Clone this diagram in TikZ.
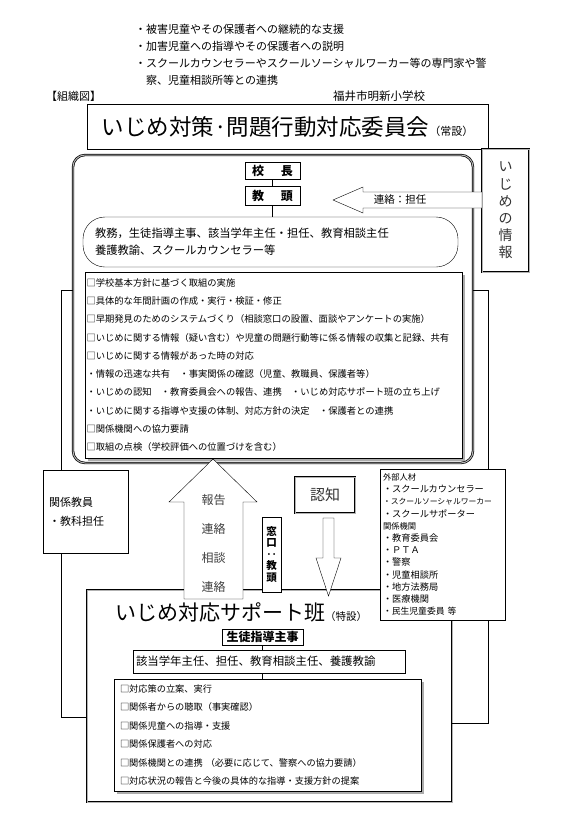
\documentclass[tikz,border=0pt]{standalone}
\usepackage{fontspec}
\setmainfont{Noto Sans CJK JP}
\usetikzlibrary{positioning,shadows}

\begin{document}
\begin{tikzpicture}[x=1pt,y=-1pt,
			box/.style={draw,fill=white,inner sep=0pt},
			dblbox/.style={draw,line width=0.7pt,double=gray!60,double distance=1pt,fill=white,inner sep=0pt},
			listbox/.style={draw,fill=white,inner ysep=0pt,align=left,
				drop shadow={shadow xshift=2.5pt,shadow yshift=-2.5pt,fill=gray!65,opacity=1}},
			txt/.style={inner sep=0pt,anchor=west,align=left},
			blockarrow/.style={draw,fill=white,line join=miter}]
			
			\useasboundingbox (0,0) rectangle (562,822);
			
			\node (aims)[txt,font=\fontsize{11}{17}\selectfont] at (135,54.5)
			{・被害児童やその保護者への継続的な支援\\
			・加害児童への指導やその保護者への説明\\
			・スクールカウンセラーやスクールソーシャルワーカー等の専門家や警\\
			　察、児童相談所等との連携};
			
			\node (soshikizu)[txt,font=\fontsize{11}{12}\selectfont] at (46,96){【組織図】};
			
			\node (school)[txt,font=\fontsize{11.5}{12}\selectfont] at (333,96){福井市明新小学校};
			
			\node (title)[box,minimum width=401pt,minimum height=45pt] at (287.5,126.5)
			{\fontsize{22.5}{24}\selectfont いじめ対策·問題行動対応委員会\fontsize{11}{12}\selectfont （常設）};
			
			\node (committee)[dblbox,rounded corners=12pt,minimum width=400pt,minimum height=308pt] at (273,309){};
			
			\node (kocho)[box,minimum width=55pt,minimum height=17pt,font=\fontsize{12}{12}\selectfont\bfseries] at (272.5,170.5){校\hspace{1.4em}長};
			
			\node (kyoto)[box,minimum width=55pt,minimum height=19pt,font=\fontsize{12}{12}\selectfont\bfseries,below=7pt of kocho]{教\hspace{1.4em}頭};
			
			\node (staff)[draw,fill=white,rounded corners=22pt,minimum height=50pt,inner ysep=0pt,inner xsep=12pt,
				text width=351pt,align=left,font=\fontsize{11.3}{17}\selectfont] at (270.5,242)
			{教務，生徒指導主事、該当学年主任・担任、教育相談主任\\養護教諭、スクールカウンセラー等};
			
			\node (duties)[listbox,inner xsep=1.5pt,text width=374pt,minimum height=186pt,
				font=\fontsize{9.3}{18.3}\selectfont] at (273.5,365)
			{□学校基本方針に基づく取組の実施\\
			□具体的な年間計画の作成・実行・検証・修正\\
			□早期発見のためのシステムづくり（相談窓口の設置、面談やアンケートの実施）\\
			□いじめに関する情報（疑い含む）や児童の問題行動等に係る情報の収集と記録、共有\\
			□いじめに関する情報があった時の対応\\
			・情報の迅速な共有　・事実関係の確認（児童、教職員、保護者等）\\
			・いじめの認知　・教育委員会への報告、連携　・いじめ対応サポート班の立ち上げ\\
			・いじめに関する指導や支援の体制、対応方針の決定　・保護者との連携\\
			□関係機関への協力要請\\
			□取組の点検（学校評価への位置づけを含む）};
			
			\node (info)[dblbox,minimum width=47pt,minimum height=123pt,align=center,
				font=\fontsize{14}{17.2}\selectfont,text=black!80] at (505.5,210.5)
			{い\\じ\\め\\の\\情\\報};
			
			\node (kankei)[box,minimum height=83pt,inner xsep=6pt,text width=73pt,align=left,
				font=\fontsize{11}{19}\selectfont] at (85.5,511.5)
			{関係教員\\・教科担任};
			
			\node (ninchi)[dblbox,minimum width=60pt,minimum height=36pt,
				font=\fontsize{15}{15}\selectfont,text=black!80] at (325,495){認知};
			
			\node (support)[dblbox,minimum width=365pt,minimum height=212pt] at (269.5,696){};
			
			\node (madoguchi)[box,minimum width=19pt,minimum height=75pt,align=center,
				font=\fontsize{10.5}{11.5}\selectfont\bfseries] at (271.5,554.5)
			{窓\\口\\‥\\教\\頭};
			
			\node (gaibu)[box,minimum height=151pt,inner xsep=3pt,text width=119pt,align=left,
				font=\fontsize{9.2}{12.2}\selectfont] at (442.5,544.5)
			{{\fontsize{8.3}{12.2}\selectfont 外部人材}\\
			・スクールカウンセラー\\
			{\fontsize{7.8}{12.2}\selectfont ・スクールソーシャルワーカー}\\
			・スクールサポーター\\
			{\fontsize{8.3}{12.2}\selectfont 関係機関}\\
			・教育委員会\\
			・ＰＴＡ\\
			・警察\\
			・児童相談所\\
			・地方法務局\\
			・医療機関\\
			{\fontsize{8.8}{12.2}\selectfont ・民生児童委員 等}};
			
			\node (supporttitle)[txt] at (115,612)
			{\fontsize{21}{22}\selectfont いじめ対応サポート班\fontsize{10.5}{11}\selectfont （特設）};
			
			\node (shido)[box,minimum width=81pt,minimum height=16pt,font=\fontsize{12}{12}\selectfont\bfseries] at (262.5,637){生徒指導主事};
			
			\node (gaitou)[box,minimum height=23pt,inner xsep=3pt,text width=266pt,align=left,
				font=\fontsize{11.4}{12}\selectfont] at (269,661.5)
			{該当学年主任、担任、教育相談主任、養護教諭};
			
			\node (taiou)[listbox,inner xsep=6pt,text width=295pt,minimum height=112pt,
				font=\fontsize{9.2}{18.4}\selectfont] at (267.5,735)
			{□対応策の立案、実行\\
			□関係者からの聴取（事実確認）\\
			□関係児童への指導・支援\\
			□関係保護者への対応\\
			□関係機関との連携 （必要に応じて、警察への協力要請）\\
			□対応状況の報告と今後の具体的な指導・支援方針の提案};
			
			\coordinate (lefttap) at (61,290);
			
			\coordinate (leftlow) at (61,717);
			
			\coordinate (righttap) at (488,290);
			
			\coordinate (rightlow) at (488,723);
			
			\draw (kocho)--(kyoto);
			
			\draw (kyoto.south)--(kyoto.south |- staff.north);
			
			\draw (shido.south)--(shido.south |- gaitou.north);
			
			\draw (shido.south |- gaitou.south)--(shido.south |- taiou.north);
			
			\draw (committee.west |- lefttap)--(lefttap)--(lefttap |- kankei.north);
			
			\draw (lefttap |- kankei.south)--(leftlow)--(leftlow -| support.west);
			
			\draw (committee.east |- righttap)--(righttap)--(righttap |- gaibu.north);
			
			\draw (righttap |- gaibu.south)--(rightlow)--(rightlow -| support.east);
			
			\draw[blockarrow](333,200)--(363,187)--(363,192)--(482,192)--(482,208)--(363,208)--(363,213)--cycle;
			
			\draw[blockarrow](213,459)--(257,502)--(243,502)--(243,599)--(184,599)--(184,502)--(169,502)--cycle;
			
			\draw[blockarrow](328.5,596)--(341,558)--(334,558)--(334,518)--(323,518)--(323,558)--(316,558)--cycle;
			
			\node (renraku)[inner sep=0pt,font=\fontsize{10.5}{11}\selectfont] at (400,200){連絡：担任};
			
			\node (hokoku)[inner sep=0pt,align=center,font=\fontsize{12}{29}\selectfont,text=black!75] at (213.5,543.5)
			{報告\\連絡\\相談\\連絡};
			
		\end{tikzpicture}
\end{document}
